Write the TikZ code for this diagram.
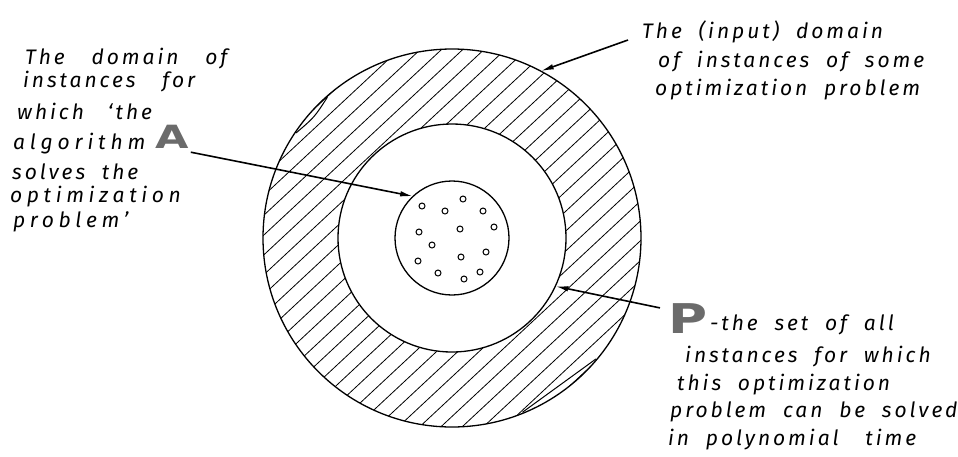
\documentclass[tikz,border=0pt]{standalone}
\usepackage{fontspec}
\usepackage{graphicx}
\usetikzlibrary{arrows.meta,positioning}

\newfontfamily\leroy{Fira Sans Italic}[LetterSpace=14, WordSpace=2]
\newfontfamily\heavy{DejaVu Sans Bold}
\definecolor{stipple}{gray}{0.42}

\begin{document}
\begin{tikzpicture}[x=1pt, y=-1pt, >=Latex,
    ring/.style={circle, draw, line width=1.3pt, inner sep=0pt, outer sep=0pt},
    hatch/.style={line width=0.8pt},
    pointer/.style={-{Latex[length=13pt,width=5.5pt]}, line width=1.6pt},
    note/.style={font=\leroy\fontsize{21}{26}\selectfont, align=left, anchor=north west, inner sep=0pt},
    bigletter/.style={font=\heavy, text=stipple, inner sep=0pt, anchor=base west},
    speck/.style={circle, draw, line width=1pt, inner sep=0pt, minimum size=6pt}]

    \useasboundingbox (0,0) rectangle (958,456);
    \coordinate (c) at (452,238);

    % hatched ring between P and the whole domain
    \begin{scope}[even odd rule]
        \clip (c) circle[radius=189] (c) circle[radius=114];
        \foreach \k in {-14,...,14}
            \draw[hatch, rotate around={43:(c)}] (c) ++(-200,\k*14.5) -- ++(400,0);
    \end{scope}

    \node[ring, minimum size=378pt] (outer) at (c) {};
    \node[ring, minimum size=228pt] (middle) at (c) {};
    \node[ring, minimum size=114pt] (inner) at (c) {};
    % doubled strokes of the pen
    \draw[line width=1pt] (296.1,132.9) .. controls (314.4,117.3) .. (327.4,97.2);
    \draw[line width=1pt] (596,358.9) .. controls (559.6,386) .. (522.4,412.3);

    % instances solved by A
    \foreach \x/\y [count=\n] in {422/206, 463/199, 445/211, 483/211, 419/232,
            460/229, 494/227, 432/245, 486/252, 461/257, 418/261, 438/273,
            480/272, 464/279}
        \node[speck] (speck\n) at (\x,\y) {};

    \node[note] (dom) at (10,47.5) {\hspace*{15pt}The\hspace{10pt} domain\hspace{10pt} of\\[-3pt]
        \hspace*{13pt}instances\hspace{10pt} for\\[6pt]
        \hspace*{7pt}which\hspace{7pt} ‘the\\[4pt]
        \hspace*{3pt}{\addfontfeature{LetterSpace=23}algorithm}\\[4pt]
        \hspace*{2pt}solves the\\[-3pt]
        {\addfontfeature{LetterSpace=22}optimization}\\[-1pt]
        \hspace*{3pt}{\addfontfeature{LetterSpace=22}problem’}};
    \node[bigletter, font=\heavy\fontsize{32}{32}\selectfont] (A) at (155,148) {\scalebox{1.35}[1]{A}};

    \node[note] (domin) at (642,21) {The (input) domain\\[3pt]
        \hspace*{16pt}of instances of some\\[2pt]
        \hspace*{13pt}optimization problem};

    \node[bigletter, font=\heavy\fontsize{41}{41}\selectfont] (P) at (668,333) {\scalebox{1.3}[1]{P}};
    \node[note] (pset) at (668,315) {\hspace*{42pt}-the set of all\\[6pt]
        \hspace*{17pt}instances for which\\[2pt]
        \hspace*{9pt}this optimization\\[1pt]
        \hspace*{2pt}problem can be solved\\[2pt]
        in polynomial\hspace{10pt} time};

    \draw[pointer] ([xshift=2pt,yshift=-4pt]A.south east) -- (inner.133);
    \draw[pointer] ([xshift=-14pt,yshift=-19pt]domin.north west) -- (outer.62);
    \draw[pointer] ([xshift=-8pt,yshift=-5pt]P.north west) -- (middle.335);
\end{tikzpicture}
\end{document}
